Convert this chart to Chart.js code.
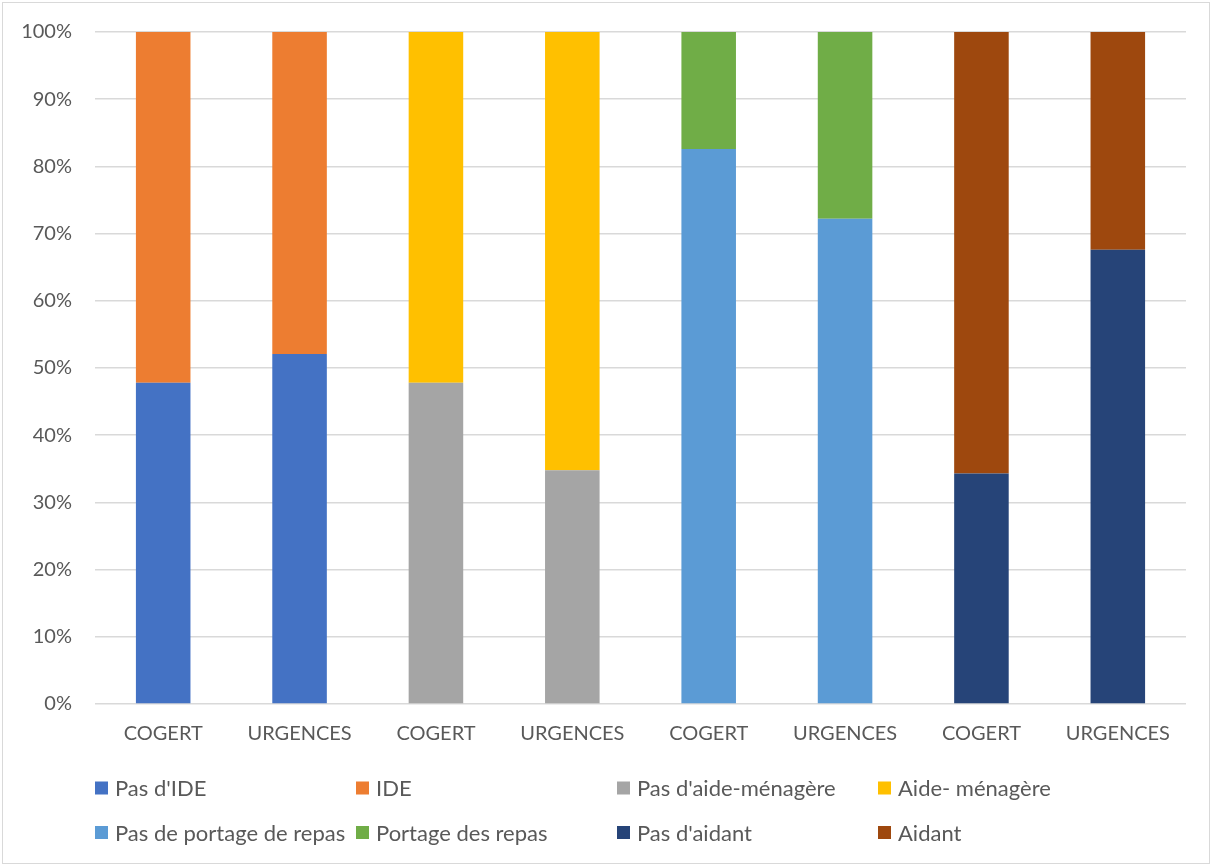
<!DOCTYPE html>
<html>
<head>
<meta charset="utf-8">
<script src="https://cdn.jsdelivr.net/npm/chart.js@4.4.1/dist/chart.umd.min.js"></script>
<style>
  html, body { margin: 0; padding: 0; background: #fff; }
  #wrap { position: absolute; left: 0; top: 0; width: 1212px; height: 866px; }
  #frame { position: absolute; left: 2px; top: 2px; width: 1206px; height: 860px; border: 1px solid #d9d9d9; pointer-events: none; }
</style>
</head>
<body>
<div id="wrap"><canvas id="c" width="1212" height="866"></canvas><div id="frame"></div></div>
<script>
const categories = ["COGERT", "URGENCES", "COGERT", "URGENCES", "COGERT", "URGENCES", "COGERT", "URGENCES"];
const seriesNames = ["Pas d'IDE", "IDE", "Pas d'aide-ménagère", "Aide- ménagère", "Pas de portage de repas", "Portage des repas", "Pas d'aidant", "Aidant"];
const pasIDE      = [47.8, 52.1, null, null, null, null, null, null];
const ide         = [52.2, 47.9, null, null, null, null, null, null];
const pasAideMen  = [null, null, 47.8, 34.8, null, null, null, null];
const aideMen     = [null, null, 52.2, 65.2, null, null, null, null];
const pasPortage  = [null, null, null, null, 82.6, 72.2, null, null];
const portage     = [null, null, null, null, 17.4, 27.8, null, null];
const pasAidant   = [null, null, null, null, null, null, 34.3, 67.6];
const aidant      = [null, null, null, null, null, null, 65.7, 32.4];
const yTicks = [0, 10, 20, 30, 40, 50, 60, 70, 80, 90, 100];

const seriesValues = [pasIDE, ide, pasAideMen, aideMen, pasPortage, portage, pasAidant, aidant];
const colors = ["#4472C4", "#ED7D31", "#A5A5A5", "#FFC000", "#5B9BD5", "#70AD47", "#264478", "#9E480E"];

const FONT = "Lato, 'Open Sans', sans-serif";
const TXT = "#595959";

const gridLegend = {
  id: 'gridLegend',
  afterDraw(chart) {
    const ctx = chart.ctx;
    const colX = [95, 356, 617, 878];
    const rowY = [788, 832.5];
    ctx.save();
    ctx.font = "22px " + FONT;
    ctx.textBaseline = "middle";
    ctx.textAlign = "left";
    chart.data.datasets.forEach((ds, i) => {
      const x = colX[i % 4], y = rowY[Math.floor(i / 4)];
      ctx.fillStyle = ds.backgroundColor;
      ctx.fillRect(x, y - 6.5, 13, 13);
      ctx.fillStyle = TXT;
      ctx.fillText(ds.label, x + 20, y + 1);
    });
    ctx.restore();
  }
};

new Chart(document.getElementById('c'), {
  type: 'bar',
  data: {
    labels: categories,
    datasets: seriesNames.map((n, i) => ({
      label: n,
      data: seriesValues[i],
      backgroundColor: colors[i],
      borderWidth: 0,
      stack: 's',
      barPercentage: 0.4,
      categoryPercentage: 1.0
    }))
  },
  options: {
    responsive: false,
    animation: false,
    devicePixelRatio: 1,
    layout: { padding: { left: 0, right: 26, top: 32, bottom: 102 } },
    plugins: { legend: { display: false }, tooltip: { enabled: false } },
    scales: {
      x: {
        stacked: true,
        grid: { display: false, drawTicks: false },
        border: { display: false },
        ticks: { color: TXT, font: { family: FONT, size: 20 }, padding: 18, maxRotation: 0 },
        afterFit(s) { s.height = 60; s.paddingLeft = 0; s.paddingRight = 0; }
      },
      y: {
        stacked: true,
        min: 0, max: 100,
        afterBuildTicks(s) { s.ticks = yTicks.map(v => ({ value: v })); },
        grid: { color: "#d9d9d9", lineWidth: 1.5, drawTicks: false },
        border: { display: false },
        ticks: { color: TXT, font: { family: FONT, size: 20 }, padding: 23, callback: v => v + "%" },
        afterFit(s) { s.width = 95; s.paddingTop = 0; s.paddingBottom = 0; }
      }
    }
  },
  plugins: [gridLegend]
});
</script>
</body>
</html>
